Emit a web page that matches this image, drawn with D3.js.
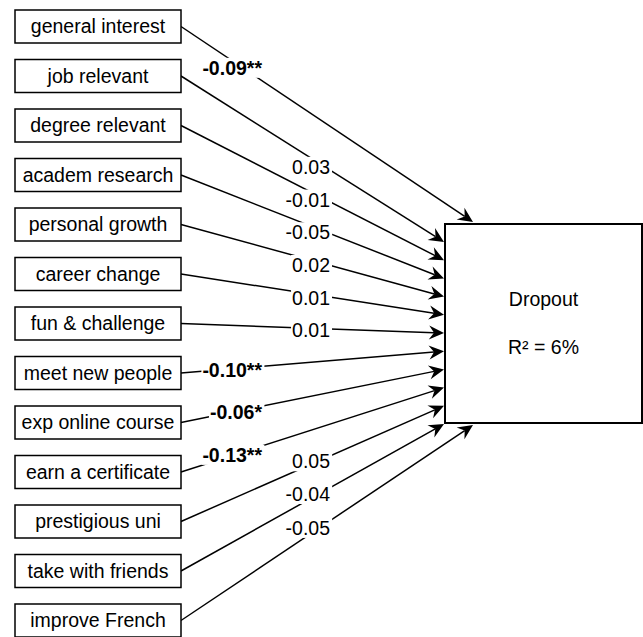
<!DOCTYPE html>
<html>
<head>
<meta charset="utf-8">
<script src="https://cdn.jsdelivr.net/npm/d3@7"></script>
<style>
  body { margin: 0; background: #fff; }
  text { font-family: "Liberation Sans", Arial, sans-serif; fill: #000; }
</style>
</head>
<body>
<div id="chart"></div>
<script>
// path model: predictors -> dropout
var predictors = ["general interest", "job relevant", "degree relevant", "academ research",
    "personal growth", "career change", "fun & challenge", "meet new people",
    "exp online course", "earn a certificate", "prestigious uni", "take with friends",
    "improve French"];
var coefs = [-0.09, 0.03, -0.01, -0.05, 0.02, 0.01, 0.01, -0.10, -0.06, -0.13, 0.05, -0.04, -0.05];
var stars = ["**", "", "", "", "", "", "", "**", "*", "**", "", "", ""];
var outcome = "Dropout";
var rSquared = 6;

(function() {
    var width = 643,
        height = 637;

    var svg = d3.select("#chart")
        .append("svg")
        .attr("width", width)
        .attr("height", height);

    var fontSize = 19.5;
    var boxX = 15, boxW = 166, boxH = 33;

    // vertical position of every predictor box (centre)
    var y = d3.scalePoint().domain(predictors).range([26.5, 620.5]);

    // outcome box
    var dv = { x: 445, y: 224, w: 197, h: 199 };

    // ports along the left side of the outcome box, first/last go to the corners
    var inner = predictors.slice(1, -1);
    var port = d3.scalePoint().domain(inner).range([dv.y + 18, dv.y + dv.h + 1]);

    var edges = predictors.map(function(name, i) {
        var t;
        if (i === 0) t = [dv.x + 28, dv.y - 2];
        else if (i === predictors.length - 1) t = [dv.x + 28, dv.y + dv.h + 2];
        else t = [dv.x - 1, port(name)];
        return {
            name: name,
            coef: coefs[i],
            sig: stars[i] !== "",
            label: coefs[i].toFixed(2) + stars[i],
            x0: boxX + boxW, y0: y(name),
            x1: t[0], y1: t[1]
        };
    });

    function lineY(d, x) {
        return d.y0 + (d.y1 - d.y0) * (x - d.x0) / (d.x1 - d.x0);
    }

    var headLen = 15, headHalf = 7, notch = 10;

    // lines (stop at the arrowhead notch)
    svg.append("g").selectAll("line")
        .data(edges)
        .enter()
        .append("line")
        .attr("x1", function(d) { return d.x0; })
        .attr("y1", function(d) { return d.y0; })
        .attr("x2", function(d) {
            var a = Math.atan2(d.y1 - d.y0, d.x1 - d.x0);
            return d.x1 - Math.cos(a) * notch;
        })
        .attr("y2", function(d) {
            var a = Math.atan2(d.y1 - d.y0, d.x1 - d.x0);
            return d.y1 - Math.sin(a) * notch;
        })
        .attr("stroke", "#000")
        .attr("stroke-width", 1.5);

    // arrowheads
    svg.append("g").selectAll("path")
        .data(edges)
        .enter()
        .append("path")
        .attr("d", "M0,0L" + (-headLen) + "," + (-headHalf) + "L" + (-notch) + ",0L" + (-headLen) + "," + headHalf + "Z")
        .attr("transform", function(d) {
            var a = Math.atan2(d.y1 - d.y0, d.x1 - d.x0) * 180 / Math.PI;
            return "translate(" + d.x1 + "," + d.y1 + ") rotate(" + a + ")";
        })
        .attr("fill", "#000");

    // coefficient labels, significant ones sit further left and bold
    var labels = svg.append("g").selectAll("g")
        .data(edges)
        .enter()
        .append("g")
        .attr("transform", function(d) {
            var ax = d.sig ? 262 : 330;
            var ex = d.sig ? 240 : 322;
            return "translate(" + ax + "," + (lineY(d, ex) + 2) + ")";
        });

    var labelText = labels.append("text")
        .attr("text-anchor", "end")
        .attr("dy", "0.35em")
        .style("font-size", fontSize + "px")
        .style("font-weight", function(d) { return d.sig ? "bold" : "normal"; })
        .text(function(d) { return d.label; });

    labelText.each(function() {
        var bb = this.getBBox();
        d3.select(this.parentNode).insert("rect", "text")
            .attr("x", bb.x - 1)
            .attr("y", bb.y + 1)
            .attr("width", bb.width + 3)
            .attr("height", bb.height - 2)
            .attr("fill", "#fff");
    });

    // predictor boxes
    var boxes = svg.append("g").selectAll("g")
        .data(predictors)
        .enter()
        .append("g")
        .attr("transform", function(d) { return "translate(" + boxX + "," + (y(d) - boxH / 2) + ")"; });

    boxes.append("rect")
        .attr("width", boxW)
        .attr("height", boxH)
        .attr("fill", "#fff")
        .attr("stroke", "#000")
        .attr("stroke-width", 1.5);

    boxes.append("text")
        .attr("x", boxW / 2)
        .attr("y", boxH / 2)
        .attr("dy", "0.35em")
        .attr("text-anchor", "middle")
        .style("font-size", fontSize + "px")
        .text(function(d) { return d; });

    // outcome box
    svg.append("rect")
        .attr("x", dv.x)
        .attr("y", dv.y)
        .attr("width", dv.w)
        .attr("height", dv.h)
        .attr("fill", "#fff")
        .attr("stroke", "#000")
        .attr("stroke-width", 2);

    svg.append("text")
        .attr("x", dv.x + dv.w / 2)
        .attr("y", dv.y + dv.h / 2 - 24)
        .attr("dy", "0.35em")
        .attr("text-anchor", "middle")
        .style("font-size", fontSize + "px")
        .text(outcome);

    svg.append("text")
        .attr("x", dv.x + dv.w / 2)
        .attr("y", dv.y + dv.h / 2 + 24)
        .attr("dy", "0.35em")
        .attr("text-anchor", "middle")
        .style("font-size", fontSize + "px")
        .text("R² = " + rSquared + "%");
})();
</script>
</body>
</html>
